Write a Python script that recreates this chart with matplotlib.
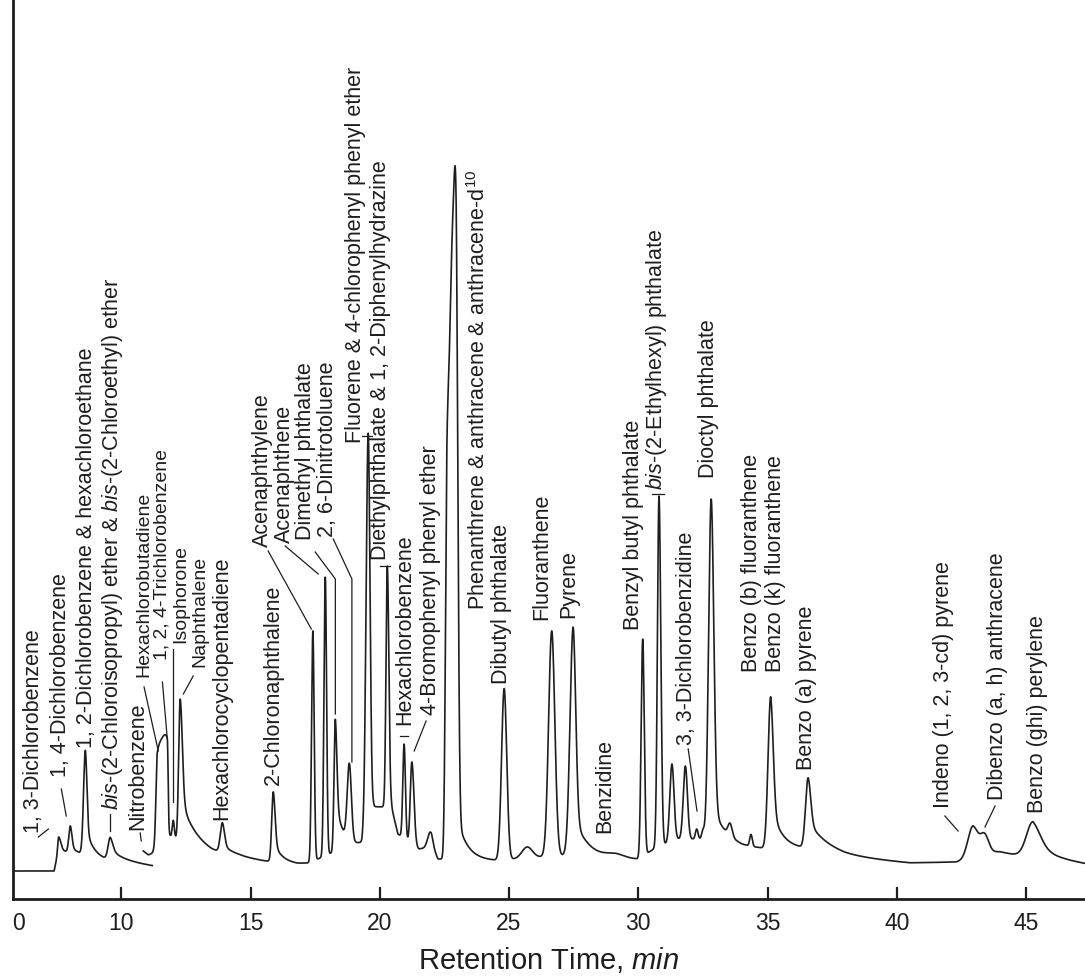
import numpy as np
import matplotlib
matplotlib.use("Agg")
import matplotlib.pyplot as plt

plt.rcParams['font.family'] = ['Liberation Sans', 'DejaVu Sans']
plt.rcParams['mathtext.fontset'] = 'custom'
plt.rcParams['mathtext.rm'] = 'Liberation Sans'
plt.rcParams['mathtext.it'] = 'Liberation Sans:italic'

# baseline of the two trace segments (retention time, detector signal)
seg1_base_t = [5.81, 7.40, 7.55, 8.30, 9.00, 9.30, 10.40, 11.20]
seg1_base_y = [28, 28, 46, 45, 42, 40, 36, 33]
seg2_base_t = [10.85, 11.05, 11.20, 11.80, 12.10, 12.60, 13.50, 14.50, 15.50, 16.80,
               17.30, 18.00, 19.00, 19.30, 19.75, 20.45, 20.70, 21.50, 22.00, 22.25,
               23.60, 24.50, 25.30, 26.20, 28.00, 29.00, 30.00, 30.60, 31.50, 33.00,
               34.00, 35.00, 36.20, 38.00, 40.50, 42.30, 44.00, 46.00, 47.28]
seg2_base_y = [48, 44, 45, 60, 60, 50, 44, 42, 38, 35,
               36, 45, 52, 55, 92, 92, 65, 50, 52, 40,
               38, 38, 40, 42, 45, 42, 40, 50, 60, 60,
               52, 50, 50, 42, 36, 37, 45, 40, 35]

# peaks: retention time, apex signal, left/right width, tail fraction, tail decay
seg1_time = [7.58, 8.03, 8.61, 9.57]
seg1_top = [62, 72, 148, 61]
seg1_wl = [0.04, 0.06, 0.07, 0.08]
seg1_wr = [0.08, 0.06, 0.06, 0.10]
seg1_tail = [0.3, 0.3, 0.3, 0.5]
seg1_tau = [0.3, 0.2, 0.25, 0.5]

# phenanthrene, anthracene and anthracene-d10 co-elute as one broad peak (22.60-22.95)
seg2_time = [11.39, 11.78, 12.01, 12.28, 13.91, 15.88, 17.41, 17.89, 18.28, 18.82,
             19.55, 20.29, 20.94, 21.24, 21.95, 22.60, 22.78, 22.95, 24.81, 25.70,
             26.65, 27.48, 29.10, 30.17, 30.80, 31.30, 31.82, 32.26, 32.50, 32.82,
             33.55, 34.36, 35.12, 36.57, 42.95, 43.40, 45.27]
seg2_top = [133, 148, 78, 200, 73, 107, 268, 322, 180, 127,
            465, 333, 155, 137, 67, 400, 500, 625, 210, 52,
            268, 272, 45, 260, 403, 135, 133, 70, 68, 400,
            68, 63, 202, 120, 73, 58, 77]
seg2_wl = [0.05, 0.20, 0.04, 0.06, 0.08, 0.06, 0.05, 0.05, 0.05, 0.08,
           0.08, 0.05, 0.05, 0.06, 0.10, 0.06, 0.09, 0.09, 0.10, 0.20,
           0.12, 0.12, 0.30, 0.06, 0.06, 0.08, 0.08, 0.05, 0.05, 0.10,
           0.08, 0.05, 0.10, 0.10, 0.20, 0.15, 0.25]
seg2_wr = [0.20, 0.03, 0.04, 0.08, 0.08, 0.07, 0.05, 0.05, 0.06, 0.08,
           0.07, 0.06, 0.05, 0.08, 0.10, 0.09, 0.09, 0.07, 0.10, 0.20,
           0.12, 0.10, 0.30, 0.06, 0.07, 0.08, 0.08, 0.05, 0.05, 0.10,
           0.08, 0.05, 0.10, 0.10, 0.20, 0.15, 0.30]
seg2_tail = [0, 0, 0, 0.35, 0.3, 0.3, 0, 0, 0.4, 0,
             0, 0, 0, 0, 0, 0, 0, 0.08, 0, 0,
             0, 0.2, 0, 0, 0, 0, 0, 0, 0, 0.1,
             0, 0, 0.3, 0.4, 0.4, 0, 0.5]
seg2_tau = [0, 0, 0, 0.6, 0.4, 0.3, 0, 0, 0.3, 0,
            0, 0, 0, 0, 0, 0, 0, 0.4, 0, 0,
            0, 0.4, 0, 0, 0, 0, 0, 0, 0, 0.5,
            0, 0, 0.4, 0.8, 0.6, 0, 0.6]

# peak labels
labels = [
    "1, 3-Dichlorobenzene",
    "1, 4-Dichlorobenzene",
    "1, 2-Dichlorobenzene & hexachloroethane",
    r"$\it{bis}$-(2-Chloroisopropyl) ether & $\it{bis}$-(2-Chloroethyl) ether",
    "Nitrobenzene",
    "Hexachlorobutadiene",
    "1, 2, 4-Trichlorobenzene",
    "Isophorone",
    "Naphthalene",
    "Hexachlorocyclopentadiene",
    "2-Chloronaphthalene",
    "Acenaphthylene",
    "Acenaphthene",
    "Dimethyl phthalate",
    "2, 6-Dinitrotoluene",
    "Fluorene & 4-chlorophenyl phenyl ether",
    "Diethylphthalate & 1, 2-Diphenylhydrazine",
    "Hexachlorobenzene",
    "4-Bromophenyl phenyl ether",
    r"Phenanthrene & anthracene & anthracene-d$^{10}$",
    "Dibutyl phthalate",
    "Fluoranthene",
    "Pyrene",
    "Benzidine",
    "Benzyl butyl phthalate",
    r"$\it{bis}$-(2-Ethylhexyl) phthalate",
    "3, 3-Dichlorobenzidine",
    "Dioctyl phthalate",
    "Benzo (b) fluoranthene",
    "Benzo (k) fluoranthene",
    "Benzo (a) pyrene",
    "Indeno (1, 2, 3-cd) pyrene",
    "Dibenzo (a, h) anthracene",
    "Benzo (ghi) perylene",
]
label_t = [6.60, 7.64, 8.65, 9.65, 10.62, 10.88, 11.59, 12.31, 13.04, 13.90,
           15.88, 15.45, 16.30, 17.12, 17.97, 19.05, 20.02, 20.98, 21.95, 23.81,
           24.69, 26.28, 27.29, 28.72, 29.80, 30.69, 31.85, 32.70, 34.36, 35.29,
           36.49, 41.79, 43.88, 45.46]
label_y = [67, 123, 152, 90, 70, 223, 240, 257, 233, 80,
           115, 353, 357, 360, 363, 457, 340, 175, 185, 290,
           216, 280, 282, 67, 270, 410, 155, 422, 228, 228,
           130, 92, 100, 87]
# the tightly packed labels around 11-13 min are set a little smaller
tight = {5, 6, 7, 8}

# leader lines from labels to peaks
leaders = [
    ([6.79, 7.18], [62, 70]),
    ([7.68, 7.87], [110, 83]),
    ([9.57, 9.57], [85, 68]),
    ([10.73, 10.77], [66, 58]),
    ([10.88, 11.43], [212, 148]),
    ([11.59, 11.78], [217, 160]),
    ([12.01, 12.01], [250, 97]),
    ([12.78, 12.40], [223, 205]),
    ([15.68, 17.35], [348, 270]),
    ([16.34, 17.62], [353, 325]),
    ([17.50, 18.28, 18.28], [347, 320, 185]),
    ([18.20, 18.92, 18.92], [360, 320, 137]),
    ([19.32, 19.71], [463, 463]),
    ([20.02, 20.40], [333, 333]),
    ([20.79, 21.10], [163, 163]),
    ([21.79, 21.33], [178, 148]),
    ([30.53, 31.00], [405, 405]),
    ([31.93, 32.27], [150, 88]),
    ([41.86, 42.37], [83, 68]),
    ([43.80, 43.41], [93, 72]),
]

tick_pos = [6.02, 10, 15, 20, 25, 30, 35, 40, 45]
tick_lab = ["0", "10", "15", "20", "25", "30", "35", "40", "45"]


def trace(tmin, tmax, bt, by, times, tops, wl, wr, tail, tau):
    t = np.linspace(tmin, tmax, 6000)
    y = np.interp(t, bt, by)
    for t0, top, a, b, f, k in zip(times, tops, wl, wr, tail, tau):
        h = top - np.interp(t0, bt, by)
        d = t - t0
        left = np.exp(-0.5 * (d / a) ** 2)
        right = (1 - f) * np.exp(-0.5 * (d / b) ** 2)
        if f > 0:
            right = right + f * np.exp(-np.clip(d, 0, None) / k)
        y = y + h * np.where(d < 0, left, right)
    return t, y


fig = plt.figure(figsize=(10.85, 9.79), dpi=100)
ax = fig.add_axes([13 / 1085, 79 / 979, 1 - 13 / 1085, 900 / 979])
ax.set_xlim(5.81, 47.28)
ax.set_ylim(0, 900)

ink = '#1e1e1e'
t1, y1 = trace(5.81, 11.20, seg1_base_t, seg1_base_y, seg1_time, seg1_top,
               seg1_wl, seg1_wr, seg1_tail, seg1_tau)
t2, y2 = trace(10.85, 47.28, seg2_base_t, seg2_base_y, seg2_time, seg2_top,
               seg2_wl, seg2_wr, seg2_tail, seg2_tau)
ax.plot(t1, y1, color=ink, lw=1.2)
ax.plot(t2, y2, color=ink, lw=1.2)

for i, (txt, x, y) in enumerate(zip(labels, label_t, label_y)):
    fs = 14 if i in tight else 15.5
    ax.text(x, y, txt, rotation=90, ha='center', va='bottom', fontsize=fs, color=ink)

for xs, ys in leaders:
    ax.plot(xs, ys, color=ink, lw=0.9)

for s in ['top', 'right']:
    ax.spines[s].set_visible(False)
for s in ['left', 'bottom']:
    ax.spines[s].set_linewidth(2)
    ax.spines[s].set_color(ink)

ax.set_yticks([])
ax.set_xticks(tick_pos)
ax.set_xticklabels(tick_lab, fontsize=16.5)
ax.tick_params(axis='x', direction='in', length=9, width=1.6, pad=9, colors=ink)
ax.xaxis.get_major_ticks()[0].tick1line.set_visible(False)
ax.set_xlabel(r"Retention Time, $\it{min}$", fontsize=21, labelpad=7, color=ink)

fig.savefig("out.png", dpi=100)
